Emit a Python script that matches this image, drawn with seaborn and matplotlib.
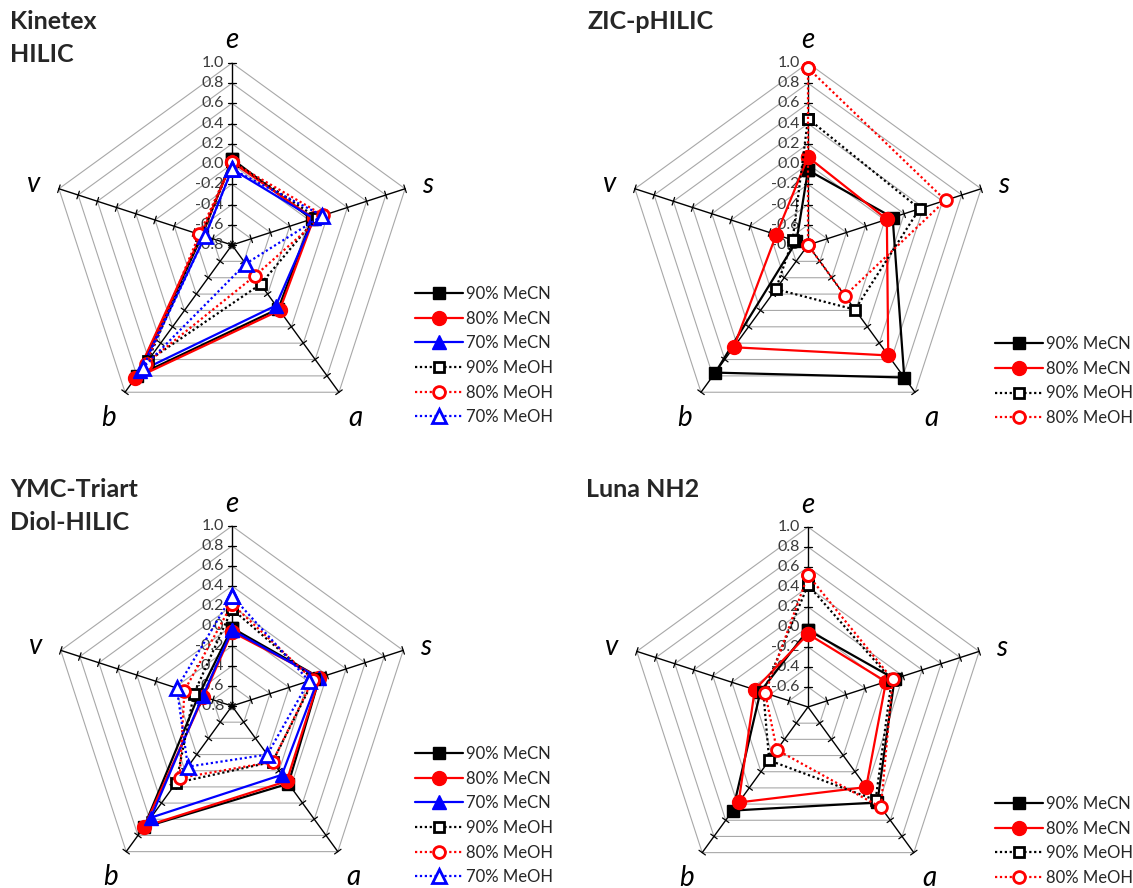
import numpy as np
import matplotlib
matplotlib.use("Agg")
import matplotlib.pyplot as plt
import seaborn as sns

# radar axes, clockwise from the top
axis_names = ["e", "s", "a", "b", "v"]
axis_angles = [90, 18, -54, -126, 162]
vmin, vmax = -0.8, 1.0
tick_labels = ["-0.8", "-0.6", "-0.4", "-0.2", "0.0", "0.2", "0.4", "0.6", "0.8", "1.0"]

series_names = ["90% MeCN", "80% MeCN", "70% MeCN", "90% MeOH", "80% MeOH", "70% MeOH"]

# values per series in axis order e, s, a, b, v
kinetex = {
    "90% MeCN": [0.05, 0.03, -0.02, 0.80, -0.49],
    "80% MeCN": [0.02, 0.05, 0.00, 0.83, -0.48],
    "70% MeCN": [-0.05, 0.05, -0.06, 0.74, -0.52],
    "90% MeOH": [0.03, 0.08, -0.32, 0.62, -0.48],
    "80% MeOH": [0.02, 0.15, -0.42, 0.65, -0.46],
    "70% MeOH": [-0.05, 0.14, -0.57, 0.70, -0.52],
}
zic = {
    "90% MeCN": [-0.06, 0.08, 0.82, 0.76, -0.68],
    "80% MeCN": [0.07, 0.02, 0.55, 0.45, -0.47],
    "90% MeOH": [0.45, 0.36, -0.01, -0.26, -0.64],
    "80% MeOH": [0.95, 0.63, -0.18, -0.80, -0.80],
}
ymc = {
    "90% MeCN": [-0.02, 0.12, 0.16, 0.70, -0.45],
    "80% MeCN": [-0.06, 0.12, 0.13, 0.69, -0.50],
    "70% MeCN": [-0.04, 0.11, 0.05, 0.58, -0.49],
    "90% MeOH": [0.17, 0.06, -0.11, 0.15, -0.40],
    "80% MeOH": [0.22, 0.05, -0.11, 0.09, -0.30],
    "70% MeOH": [0.30, 0.01, -0.20, -0.05, -0.22],
}
luna = {
    "90% MeCN": [-0.03, 0.11, 0.38, 0.48, -0.30],
    "80% MeCN": [-0.07, 0.02, 0.19, 0.38, -0.24],
    "90% MeOH": [0.42, 0.08, 0.35, -0.14, -0.33],
    "80% MeOH": [0.52, 0.09, 0.44, -0.27, -0.35],
}

dot = (0, (1, 1.2))
styles = {
    "90% MeCN": dict(color="black", linestyle="-", marker="s", markersize=8.5, markerfacecolor="black", markeredgecolor="black"),
    "80% MeCN": dict(color="red", linestyle="-", marker="o", markersize=10, markerfacecolor="red", markeredgecolor="red"),
    "70% MeCN": dict(color="blue", linestyle="-", marker="^", markersize=10, markerfacecolor="blue", markeredgecolor="blue"),
    "90% MeOH": dict(color="black", linestyle=dot, marker="s", markersize=7.5, markerfacecolor="white", markeredgecolor="black"),
    "80% MeOH": dict(color="red", linestyle=dot, marker="o", markersize=8.5, markerfacecolor="white", markeredgecolor="red"),
    "70% MeOH": dict(color="blue", linestyle=dot, marker="^", markersize=9.5, markerfacecolor="white", markeredgecolor="blue"),
}
label_radius = {"e": 1.144, "s": 1.13, "a": 1.15, "b": 1.15, "v": 1.15}

sns.set_theme(style="white")
plt.rcParams["font.family"] = ["Lato", "DejaVu Sans"]

W, H = 1133, 888
fig = plt.figure(figsize=(W / 100, H / 100), dpi=100)


def to_xy(vals):
    r = (np.asarray(vals) - vmin) / (vmax - vmin)
    th = np.radians(axis_angles)
    return r * np.cos(th), r * np.sin(th)


def radar(title, data, center, radius, title_xy, legend_xy, center_ticks=True, min_label=0):
    cx, cy = center
    L = 1.4
    half = L * radius
    ax = fig.add_axes([(cx - half) / W, (H - cy - half) / H, 2 * half / W, 2 * half / H])
    ax.set_xlim(-L, L)
    ax.set_ylim(-L, L)
    ax.axis("off")

    th = np.radians(axis_angles)
    # pentagon grid
    for k in range(1, 10):
        r = k / 9
        gx = np.append(r * np.cos(th), r * np.cos(th[0]))
        gy = np.append(r * np.sin(th), r * np.sin(th[0]))
        ax.plot(gx, gy, color="#a8a8a8", lw=0.8, zorder=1)
    # spokes with cross ticks
    for t in th:
        c, s = np.cos(t), np.sin(t)
        ax.plot([0, c], [0, s], color="black", lw=1.0, zorder=2)
        for k in range(0 if center_ticks else 1, 10):
            r = k / 9
            d = 0.022
            ax.plot([r * c + d * s, r * c - d * s], [r * s - d * c, r * s + d * c],
                    color="black", lw=0.9, zorder=2)
    # value labels on the e axis
    for k, lab in enumerate(tick_labels):
        if k < min_label:
            continue
        ax.text(-0.045, k / 9, lab, ha="right", va="center", fontsize=11.5,
                color="#3a3a3a", zorder=3)
    # axis names
    for name, t in zip(axis_names, th):
        rr = label_radius[name]
        ax.text(rr * np.cos(t), rr * np.sin(t) - 0.02, name, ha="center", va="center",
                fontsize=20, style="italic", color="black")

    for i, name in enumerate(series_names):
        if name not in data:
            continue
        xs, ys = to_xy(data[name])
        xs = np.append(xs, xs[0])
        ys = np.append(ys, ys[0])
        sns.lineplot(x=xs, y=ys, sort=False, estimator=None, ax=ax, lw=1.6,
                     markeredgewidth=2 if "MeOH" in name else 1, label=name,
                     zorder=5 + i, clip_on=False, **styles[name])

    fig.text(title_xy[0] / W, 1 - title_xy[1] / H, title, ha="left", va="top",
             fontsize=18, fontweight="bold", linespacing=1.5)
    ax.legend(loc="upper left", bbox_to_anchor=(legend_xy[0] / W, 1 - legend_xy[1] / H),
              bbox_transform=fig.transFigure, frameon=False, fontsize=12,
              handlelength=2.85, handletextpad=0.22, labelspacing=0.52,
              borderpad=0, borderaxespad=0)
    return ax


radar("Kinetex\nHILIC", kinetex, (232, 245), 182, (10, 10), (415, 286))
radar("ZIC-pHILIC", zic, (808, 245), 182, (587, 10), (995, 336))
radar("YMC-Triart\nDiol-HILIC", ymc, (232, 706), 180, (10, 478), (415, 746))
radar("Luna NH2", luna, (808, 707), 180, (586, 478), (995, 796), center_ticks=False, min_label=1)

fig.savefig("out.png", dpi=100)
